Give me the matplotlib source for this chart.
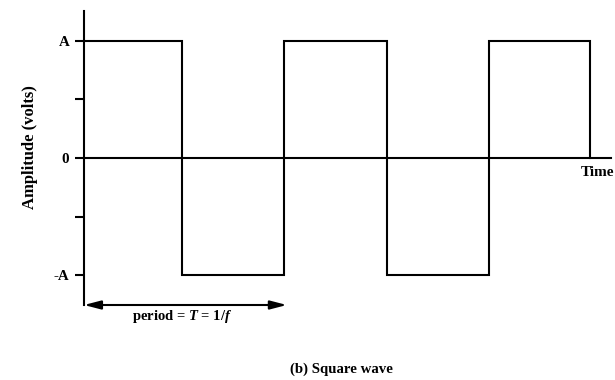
import matplotlib
matplotlib.use("Agg")
import matplotlib.pyplot as plt

# Data
edges = [0.0, 0.96, 1.96, 2.97, 3.97, 4.96]     # transition times
levels = [1, -1, 1, -1, 1]                      # A, -A alternating
time_end = 5.17
ytick_vals = [1, 0.5, 0, -0.5, -1]
ytick_labels = ["A", "", "0", "", "-A"]
period_span = [0.0, 1.99]

plt.rcParams['font.family'] = ['Liberation Serif', 'DejaVu Serif']
plt.rcParams['font.weight'] = 'bold'
plt.rcParams['mathtext.fontset'] = 'custom'
plt.rcParams['mathtext.rm'] = 'Liberation Serif:bold'
plt.rcParams['mathtext.it'] = 'Liberation Serif:italic:bold'
plt.rcParams['mathtext.bf'] = 'Liberation Serif:bold'

W, H = 615, 380
fig = plt.figure(figsize=(W / 100, H / 100), dpi=100)
ax = fig.add_axes([84 / W, 1 - 305 / H, (611 - 84) / W, (305 - 11) / H])
ax.set_xlim(0, time_end)
ax.set_ylim(-1.256, 1.256)

# square wave path
xs, ys = [], []
for i, lv in enumerate(levels):
    xs.append(edges[i]); ys.append(lv)
    xs.append(edges[i + 1]); ys.append(lv)
xs.append(edges[-1]); ys.append(0)
ax.plot(xs, ys, color='black', lw=1.5, solid_joinstyle='miter', clip_on=False)

# time axis at zero
ax.plot([0, time_end], [0, 0], color='black', lw=1.5, clip_on=False)

for s in ['top', 'right', 'bottom']:
    ax.spines[s].set_visible(False)
ax.spines['left'].set_linewidth(1.5)
ax.set_xticks([])
ax.set_yticks(ytick_vals)
ax.set_yticklabels(ytick_labels, fontsize=10.8, fontweight='bold')
ax.tick_params(axis='y', direction='out', length=6.5, width=1.5, pad=4)

ax.text(5.20, -0.12, "Time", ha='right', va='center', fontsize=11,
        fontweight='bold', clip_on=False)

# period arrow
ax.annotate("", xy=(period_span[1], -1.256), xytext=(period_span[0], -1.256),
            arrowprops=dict(arrowstyle='<|-|>,head_length=0.5,head_width=0.13',
                            mutation_scale=20, color='black', lw=1.5,
                            shrinkA=0, shrinkB=0),
            annotation_clip=False)
ax.text(0.96, -1.356, r"period = $\mathit{T}$ = 1/$\mathit{f}$", ha='center', va='center',
        fontsize=10.5, fontweight='bold', clip_on=False)

fig.text(30 / W, 1 - 147 / H, "Amplitude (volts)", rotation=90, ha='center',
         va='center', fontsize=12, fontweight='bold')
fig.text(341 / W, 1 - 369 / H, "(b) Square wave", ha='center', va='center',
         fontsize=10.7, fontweight='bold')

fig.savefig("out.png", dpi=100)
